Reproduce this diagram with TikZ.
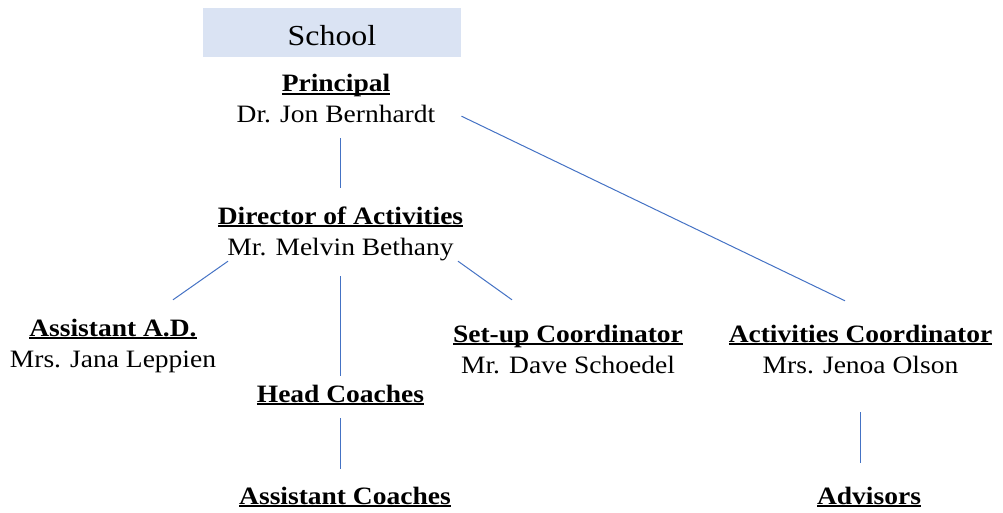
\documentclass[tikz,border=0pt]{standalone}
\usepackage{fontspec}
\setmainfont{Liberation Serif}[FakeStretch=1.1]
\definecolor{linkblue}{HTML}{4472C4}
\definecolor{boxblue}{HTML}{DAE3F3}
\newsavebox{\rolebox}
\newcommand{\role}[1]{\sbox{\rolebox}{\bfseries #1}\rlap{\rule[-2.8pt]{\wd\rolebox}{1.6pt}}\usebox{\rolebox}}

\begin{document}
\begin{tikzpicture}[x=1pt,y=-1pt,
  every node/.style={font=\fontsize{25}{31}\selectfont, inner sep=0pt},
  person/.style={align=center, anchor=base, text height=49pt, text depth=7pt},
  group/.style={anchor=base, text height=18pt, text depth=7pt},
  link/.style={linkblue, line width=1pt}]
\useasboundingbox (0,0) rectangle (1003,513);

% School banner
\node[fill=boxblue, minimum width=258pt, minimum height=49pt,
  font=\fontsize{29}{35}\selectfont, text height=27pt, text depth=0pt] (school) at (332,32.5) {School};

% Staff (placed at the baseline of the name line)
\node[person] (pr) at (336,123) {\role{Principal}\\Dr. Jon Bernhardt};
\node[person] (dir) at (340.5,255) {\role{Director of Activities}\\Mr. Melvin Bethany};
\node[person] (ad) at (113,367) {\role{Assistant A.D.}\\Mrs. Jana Leppien};
\node[person] (setup) at (568,373) {\role{Set-up Coordinator}\\Mr. Dave Schoedel};
\node[person] (act) at (860.5,373) {\role{Activities Coordinator}\\Mrs. Jenoa Olson};

% Groups
\node[group] (head) at (340.5,402) {\role{Head Coaches}};
\node[group] (asstc) at (345,504) {\role{Assistant Coaches}};
\node[group] (adv) at (869,504) {\role{Advisors}};

% Connectors
\draw[link, shorten <=8pt, shorten >=18pt] (dir.north |- pr.south) -- (dir.north);
\draw[link] ([xshift=125.5pt,yshift=14pt]pr.south) -- ([xshift=-15.5pt,yshift=23pt]act.north);
\draw[link] ([xshift=-112.5pt,yshift=1pt]dir.south) -- ([xshift=60pt,yshift=18pt]ad.north);
\draw[link] ([xshift=117.5pt,yshift=1pt]dir.south) -- ([xshift=-56pt,yshift=24pt]setup.north);
\draw[link, shorten <=14pt, shorten >=8pt] (dir.south) -- (head.north);
\draw[link, shorten <=9pt, shorten >=17pt] (head.south) -- (head.south |- asstc.north);
\draw[link, shorten <=32pt, shorten >=23pt] (act.south) -- (act.south |- adv.north);
\end{tikzpicture}
\end{document}
